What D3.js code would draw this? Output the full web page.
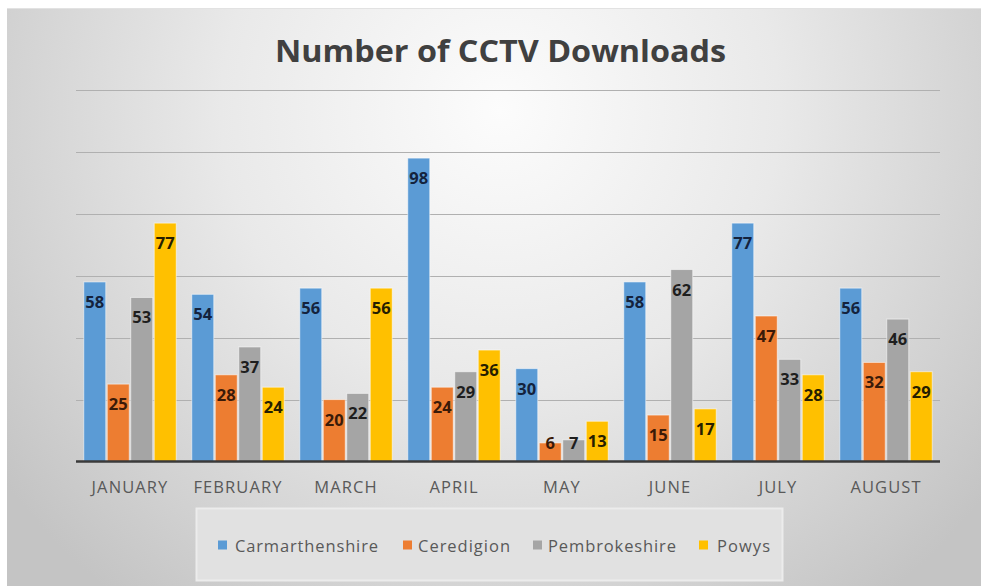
<!DOCTYPE html>
<html>
<head>
<meta charset="utf-8">
<script src="https://cdn.jsdelivr.net/npm/d3@7"></script>
<style>
  html, body { margin: 0; padding: 0; background: #ffffff; }
  svg { display: block; }
</style>
</head>
<body>
<svg id="chart" width="981" height="586"></svg>
<script>
const months = ["JANUARY", "FEBRUARY", "MARCH", "APRIL", "MAY", "JUNE", "JULY", "AUGUST"];
const seriesNames = ["Carmarthenshire", "Ceredigion", "Pembrokeshire", "Powys"];
const carmarthenshire = [58, 54, 56, 98, 30, 58, 77, 56];
const ceredigion = [25, 28, 20, 24, 6, 15, 47, 32];
const pembrokeshire = [53, 37, 22, 29, 7, 62, 33, 46];
const powys = [77, 24, 56, 36, 13, 17, 28, 29];
const gridTicks = [20, 40, 60, 80, 100, 120];

const seriesValues = [carmarthenshire, ceredigion, pembrokeshire, powys];
const colors = ["#5b9bd5", "#ed7d31", "#a5a5a5", "#ffc000"];
const labelColors = ["#14233d", "#3a1a08", "#1e1e1e", "#261e00"];

const svg = d3.select("#chart");
const W = 981, H = 586;

// background gradient
const defs = svg.append("defs");
const rg = defs.append("radialGradient")
  .attr("id", "bg")
  .attr("gradientUnits", "userSpaceOnUse")
  .attr("cx", 500).attr("cy", 110).attr("r", 620)
  .attr("fx", 500).attr("fy", 110);
rg.append("stop").attr("offset", "0").attr("stop-color", "#fcfcfc");
rg.append("stop").attr("offset", "0.45").attr("stop-color", "#e9e9e9");
rg.append("stop").attr("offset", "0.8").attr("stop-color", "#d2d2d2");
rg.append("stop").attr("offset", "1").attr("stop-color", "#c4c4c4");

svg.append("rect").attr("x", 0).attr("y", 0).attr("width", W).attr("height", H).attr("fill", "#ffffff");
svg.append("rect").attr("x", 7).attr("y", 8).attr("width", W - 7).attr("height", H - 8)
  .attr("fill", "url(#bg)");
svg.append("line").attr("x1", 7).attr("x2", W).attr("y1", 8.5).attr("y2", 8.5)
  .attr("stroke", "#e2e2e2").attr("stroke-width", 1);

// title
svg.append("text")
  .attr("x", 500.5).attr("y", 62)
  .attr("text-anchor", "middle")
  .attr("font-family", "'Open Sans', sans-serif")
  .attr("font-weight", "bold")
  .attr("font-size", 30)
  .attr("fill", "#404040")
  .attr("textLength", 451)
  .attr("lengthAdjust", "spacingAndGlyphs")
  .text("Number of CCTV Downloads");

// scales
const x0 = d3.scaleBand().domain(months).range([76, 940]).paddingInner(0.13).paddingOuter(0.065);
const x1 = d3.scaleBand().domain(seriesNames).range([0, x0.bandwidth()]).padding(0);
const y = d3.scaleLinear().domain([0, 120]).range([461.5, 90]);

// gridlines
svg.append("g").selectAll("line").data(gridTicks).join("line")
  .attr("x1", 76).attr("x2", 940)
  .attr("y1", d => Math.round(y(d)) + 0.5).attr("y2", d => Math.round(y(d)) + 0.5)
  .attr("stroke", "#b0b0b0").attr("stroke-width", 1);

// bars
const groups = svg.append("g").selectAll("g").data(months).join("g")
  .attr("transform", d => `translate(${x0(d)},0)`);

const cells = groups.selectAll("g.cell")
  .data((m, i) => seriesNames.map((s, j) => ({ s, j, v: seriesValues[j][i] })))
  .join("g").attr("class", "cell");

cells.append("rect")
  .attr("x", d => x1(d.s) + 0.75)
  .attr("width", x1.bandwidth() - 1.5)
  .attr("y", d => y(d.v))
  .attr("height", d => y(0) - y(d.v))
  .attr("fill", (d) => colors[d.j])
  .attr("stroke", "#ffffff")
  .attr("stroke-opacity", 0.55)
  .attr("stroke-width", 1);

// data labels
cells.append("text")
  .attr("x", d => x1(d.s) + x1.bandwidth() / 2)
  .attr("y", d => Math.min(y(d.v) + 20, y(0) - 19) + 6)
  .attr("text-anchor", "middle")
  .attr("font-family", "'Open Sans', sans-serif")
  .attr("font-weight", "bold")
  .attr("font-size", 16.5)
  .attr("fill", d => labelColors[d.j])
  .text(d => d.v);

// baseline axis
const xAxis = d3.axisBottom(x0).tickSize(0).tickPadding(0);
const axisG = svg.append("g").attr("transform", `translate(0,${y(0)})`).call(xAxis);
axisG.select(".domain").attr("stroke", "#3a3a3a").attr("stroke-width", 2.5)
  .attr("d", `M76,0H940`);
axisG.selectAll(".tick text")
  .attr("y", 31.5)
  .attr("dy", 0)
  .attr("font-family", "'Open Sans', sans-serif")
  .attr("font-size", 16.5)
  .attr("letter-spacing", 1.1)
  .attr("fill", "#595959");

// legend
const legendBox = svg.append("g");
legendBox.append("rect")
  .attr("x", 196.5).attr("y", 508.5).attr("width", 586).attr("height", 72)
  .attr("fill", "#e1e1e1").attr("stroke", "#ececec").attr("stroke-width", 2);

const legendSquareX = [218, 403, 533, 699];
const legendTextWidth = [143, 92, 128, 53];
const legend = legendBox.selectAll("g.item").data(seriesNames).join("g").attr("class", "item")
  .attr("transform", (d, i) => `translate(${legendSquareX[i]},545)`);
legend.append("rect")
  .attr("x", 0).attr("y", -4.5).attr("width", 9).attr("height", 9)
  .attr("fill", (d, i) => colors[i]);
legend.append("text")
  .attr("x", (d, i) => [17, 15, 15, 18][i])
  .attr("y", 6.5)
  .attr("font-family", "'Open Sans', sans-serif")
  .attr("font-size", 16.5)
  .attr("textLength", (d, i) => legendTextWidth[i])
  .attr("lengthAdjust", "spacing")
  .attr("fill", "#595959")
  .text(d => d);
</script>
</body>
</html>
